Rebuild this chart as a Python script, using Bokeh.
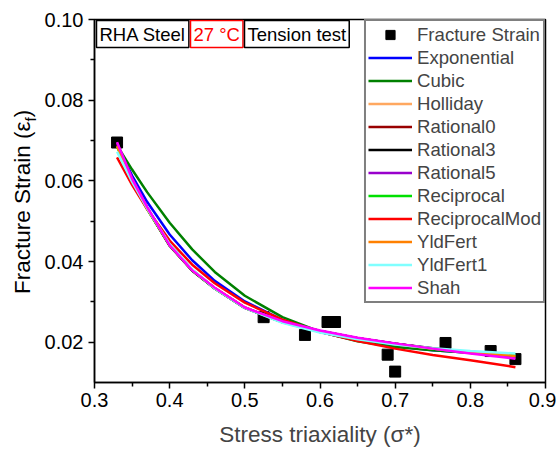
from bokeh.plotting import figure
from bokeh.models import (Legend, LegendItem, Label, FixedTicker, NumeralTickFormatter,
                          Range1d, Div)
from bokeh.layouts import row
from bokeh.embed import file_html
from bokeh.resources import INLINE

# ---------------- data ----------------
x_data = [0.33, 0.525, 0.58, 0.61, 0.62, 0.69, 0.70, 0.767, 0.827, 0.86]
y_data = [0.0695, 0.0262, 0.0218, 0.0250, 0.0250, 0.0169, 0.0127, 0.0198, 0.0178, 0.0158]

x_fit = [0.33, 0.35, 0.37, 0.40, 0.43, 0.46, 0.50, 0.55, 0.60, 0.65, 0.70, 0.75, 0.80, 0.86]
exponential = [0.0690, 0.0613, 0.0548, 0.0467, 0.0403, 0.0352, 0.0301, 0.0255, 0.0225, 0.0204, 0.0190, 0.0180, 0.0174, 0.0168]
cubic = [0.0688, 0.0628, 0.0572, 0.0496, 0.0430, 0.0374, 0.0315, 0.0262, 0.0226, 0.0202, 0.0188, 0.0180, 0.0174, 0.0168]
holliday = [0.0690, 0.0603, 0.0533, 0.0441, 0.0379, 0.0334, 0.0286, 0.0250, 0.0228, 0.0210, 0.0196, 0.0184, 0.0173, 0.0162]
rational0 = [0.0688, 0.0601, 0.0531, 0.0440, 0.0378, 0.0333, 0.0285, 0.0250, 0.0228, 0.0210, 0.0196, 0.0184, 0.0174, 0.0163]
rational3 = [0.0692, 0.0603, 0.0532, 0.0439, 0.0377, 0.0333, 0.0285, 0.0250, 0.0228, 0.0210, 0.0196, 0.0185, 0.0175, 0.0164]
rational5 = [0.0694, 0.0606, 0.0535, 0.0442, 0.0379, 0.0334, 0.0286, 0.0250, 0.0228, 0.0210, 0.0196, 0.0184, 0.0174, 0.0163]
reciprocal = [0.0685, 0.0600, 0.0530, 0.0440, 0.0378, 0.0333, 0.0285, 0.0249, 0.0226, 0.0208, 0.0195, 0.0184, 0.0175, 0.0167]
reciprocal_mod = [0.0658, 0.0590, 0.0530, 0.0452, 0.0392, 0.0346, 0.0298, 0.0256, 0.0226, 0.0203, 0.0184, 0.0168, 0.0155, 0.0138]
yldfert = [0.0686, 0.0601, 0.0531, 0.0441, 0.0379, 0.0334, 0.0286, 0.0250, 0.0227, 0.0209, 0.0195, 0.0184, 0.0175, 0.0166]
yldfert1 = [0.0672, 0.0598, 0.0532, 0.0443, 0.0380, 0.0333, 0.0285, 0.0248, 0.0224, 0.0207, 0.0194, 0.0185, 0.0178, 0.0172]
shah = [0.0696, 0.0605, 0.0535, 0.0440, 0.0378, 0.0335, 0.0286, 0.0252, 0.0229, 0.0211, 0.0197, 0.0184, 0.0172, 0.0159]

series_names = ["Exponential", "Cubic", "Holliday", "Rational0", "Rational3", "Rational5",
                "Reciprocal", "ReciprocalMod", "YldFert", "YldFert1", "Shah"]
series_values = [exponential, cubic, holliday, rational0, rational3, rational5,
                 reciprocal, reciprocal_mod, yldfert, yldfert1, shah]
series_colors = ["#0000FF", "#008000", "#FFA860", "#990000", "#000000", "#9900CC",
                 "#00E000", "#FF0000", "#FF8000", "#80FFFF", "#FF00FF"]

x_ticks = [0.3, 0.4, 0.5, 0.6, 0.7, 0.8, 0.9]
x_minor = [0.35, 0.45, 0.55, 0.65, 0.75, 0.85]
y_ticks = [0.02, 0.04, 0.06, 0.08, 0.10]
y_minor = [0.03, 0.05, 0.07, 0.09]

FONT = "Liberation Sans"
DIV_W = 40

p = figure(width=556 - DIV_W, height=453, output_backend="svg", toolbar_location=None,
           x_range=Range1d(0.3, 0.9), y_range=Range1d(0.01, 0.10),
           min_border_left=94 - DIV_W, min_border_right=11, min_border_top=19,
           min_border_bottom=71)
p.background_fill_color = "white"
p.border_fill_color = "white"
p.outline_line_color = "black"
p.outline_line_width = 1.5
p.xgrid.visible = False
p.ygrid.visible = False

for ax in (p.xaxis[0], p.yaxis[0]):
    ax.axis_line_width = 1.5
    ax.major_tick_line_width = 1.5
    ax.minor_tick_line_width = 1.5
    ax.major_tick_in = 0
    ax.major_tick_out = 6
    ax.minor_tick_in = 0
    ax.minor_tick_out = 4
    ax.major_label_text_font = FONT
    ax.major_label_text_font_size = "20px"
    ax.major_label_text_color = "black"
    ax.axis_label_text_font = FONT
    ax.axis_label_text_font_style = "normal"
    ax.axis_label_text_font_size = "22.5px"

p.xaxis[0].ticker = FixedTicker(ticks=x_ticks, minor_ticks=x_minor)
p.yaxis[0].ticker = FixedTicker(ticks=y_ticks, minor_ticks=y_minor)
p.xaxis[0].formatter = NumeralTickFormatter(format="0.0")
p.yaxis[0].formatter = NumeralTickFormatter(format="0.00")
p.xaxis[0].major_label_standoff = 4
p.yaxis[0].major_label_standoff = 5
p.xaxis[0].axis_label = "Stress triaxiality (σ*)"
p.xaxis[0].axis_label_standoff = 12

# data markers
pts = p.scatter(x_data, y_data, marker="square", size=11, color="black")
items = [LegendItem(label="Fracture Strain", renderers=[pts])]
for name, vals, col in zip(series_names, series_values, series_colors):
    r = p.line(x_fit, vals, line_color=col, line_width=2.5)
    items.append(LegendItem(label=name, renderers=[r]))

legend = Legend(items=items, location="top_right", margin=0, padding=2, spacing=0,
                glyph_width=44, glyph_height=23, label_height=23, label_standoff=5,
                label_text_font=FONT, label_text_font_size="18.6px",
                border_line_color="black", border_line_width=2,
                background_fill_color="white", background_fill_alpha=1.0)
p.add_layout(legend)

# boxed annotations at top-left
box_specs = [("RHA Steel", 2, "black"), ("27 °C", 96, "red"), ("Tension test", 150, "black")]
for txt, xx, col in box_specs:
    p.add_layout(Label(x=xx, y=362, x_units="screen", y_units="screen", text=txt,
                       text_font=FONT, text_font_size="18.5px", text_color=col,
                       text_align="left", text_baseline="top", padding=3,
                       border_line_color=col, border_line_width=1.5,
                       background_fill_color="white", background_fill_alpha=1.0))

# y axis title with subscript (rotated HTML text)
ylabel_html = ('<div style="position:absolute;left:10px;top:294px;transform:rotate(-90deg);'
               'transform-origin:0 0;white-space:nowrap;font-family:\'Liberation Sans\';'
               'font-size:22.5px;line-height:26px;color:black;">'
               'Fracture Strain (ε<sub style="font-size:15px;">f</sub>)</div>')
ydiv = Div(text=ylabel_html, width=DIV_W, height=453, margin=0)

layout = row(ydiv, p, spacing=0)
open("out.html", "w").write(file_html(layout, INLINE))
